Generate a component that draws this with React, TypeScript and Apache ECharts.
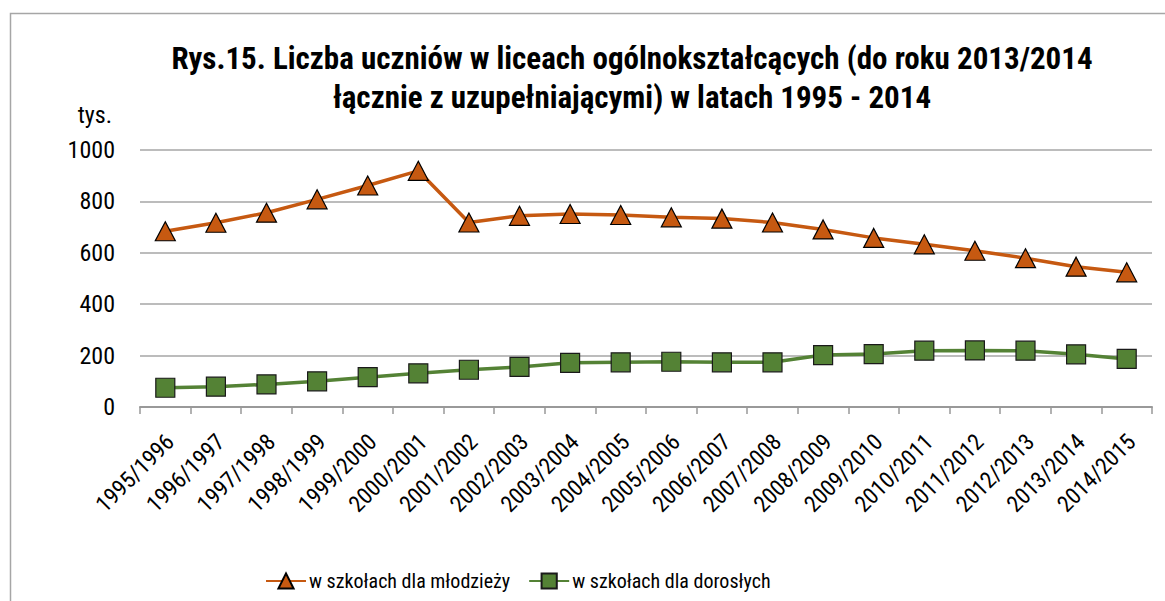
import React, { useEffect, useRef } from "react";
import * as echarts from "echarts";

const categories = [
  "1995/1996", "1996/1997", "1997/1998", "1998/1999", "1999/2000", "2000/2001",
  "2001/2002", "2002/2003", "2003/2004", "2004/2005", "2005/2006", "2006/2007",
  "2007/2008", "2008/2009", "2009/2010", "2010/2011", "2011/2012", "2012/2013",
  "2013/2014", "2014/2015",
];
const mlodziez = [684, 717, 756, 808, 862, 919, 718, 744, 751, 747, 738, 733, 718, 691, 658, 633, 608, 579, 546, 524];
const dorosli = [75, 79, 88, 100, 116, 131, 145, 156, 172, 174, 176, 174, 174, 202, 206, 219, 220, 219, 205, 187];
const yTicks = [0, 200, 400, 600, 800, 1000];

const FONT = "'Roboto Condensed', 'Liberation Sans', Arial, sans-serif";

export default function App() {
  const ref = useRef<HTMLDivElement>(null);
  useEffect(() => {
    const chart = echarts.init(ref.current!, null, { renderer: "svg" });
    chart.setOption({
      animation: false,
      backgroundColor: "#ffffff",
      textStyle: { fontFamily: FONT },
      title: {
        text: "Rys.15. Liczba uczniów w liceach ogólnokształcących (do roku 2013/2014\nłącznie z uzupełniającymi) w latach 1995 - 2014",
        left: 627,
        top: 34,
        textAlign: "center",
        textStyle: { fontFamily: FONT, fontWeight: "bold", fontSize: 31, lineHeight: 39, color: "#000" },
      },
      graphic: [
        {
          type: "rect",
          shape: { x: 10.5, y: 13.5, width: 1200, height: 700 },
          style: { fill: "none", stroke: "#a6a6a6", lineWidth: 1.5 },
          silent: true,
        },
      ],
      legend: {
        top: 571,
        left: 265,
        padding: 0,
        itemWidth: 40,
        itemHeight: 19,
        itemGap: 18,
        textStyle: { fontFamily: FONT, fontSize: 20, color: "#000", padding: [0, 0, 0, -2] },
        data: ["w szkołach dla młodzieży", "w szkołach dla dorosłych"],
      },
      grid: { left: 140, right: 13, top: 150, bottom: 194, containLabel: false },
      xAxis: {
        type: "category",
        data: categories,
        boundaryGap: true,
        axisLine: { lineStyle: { color: "#999999", width: 2 } },
        axisTick: { show: true, alignWithLabel: false, length: 7, lineStyle: { color: "#999999", width: 1.5 } },
        axisLabel: { rotate: 45, interval: 0, fontFamily: FONT, fontSize: 23, color: "#000", margin: 36, padding: [0, -7, 0, 0] },
      },
      yAxis: {
        type: "value",
        min: yTicks[0],
        max: yTicks[yTicks.length - 1],
        interval: 200,
        name: "tys.",
        nameLocation: "end",
        nameGap: 23,
        nameTextStyle: { fontFamily: FONT, fontSize: 24, color: "#000", align: "right", padding: [0, 28, 0, 0] },
        axisLine: { show: false },
        axisTick: { show: false },
        axisLabel: { fontFamily: FONT, fontSize: 24, color: "#000", margin: 25, formatter: (v: number) => String(v) },
        splitLine: { lineStyle: { color: "#a6a6a6", width: 1.5 } },
      },
      series: [
        {
          name: "w szkołach dla młodzieży",
          type: "line",
          data: mlodziez,
          symbol: "triangle",
          symbolSize: [20, 19],
          lineStyle: { color: "#c65911", width: 3.5 },
          itemStyle: { color: "#c65911", borderColor: "#000", borderWidth: 1.2 },
          z: 3,
        },
        {
          name: "w szkołach dla dorosłych",
          type: "line",
          data: dorosli,
          symbol: "rect",
          symbolSize: 19,
          lineStyle: { color: "#548235", width: 3.5 },
          itemStyle: { color: "#548235", borderColor: "#1a1a1a", borderWidth: 1.2 },
          z: 2,
        },
      ],
    });
    return () => chart.dispose();
  }, []);
  return <div ref={ref} style={{ width: 1165, height: 601, position: "absolute", left: 0, top: 0 }} />;
}
